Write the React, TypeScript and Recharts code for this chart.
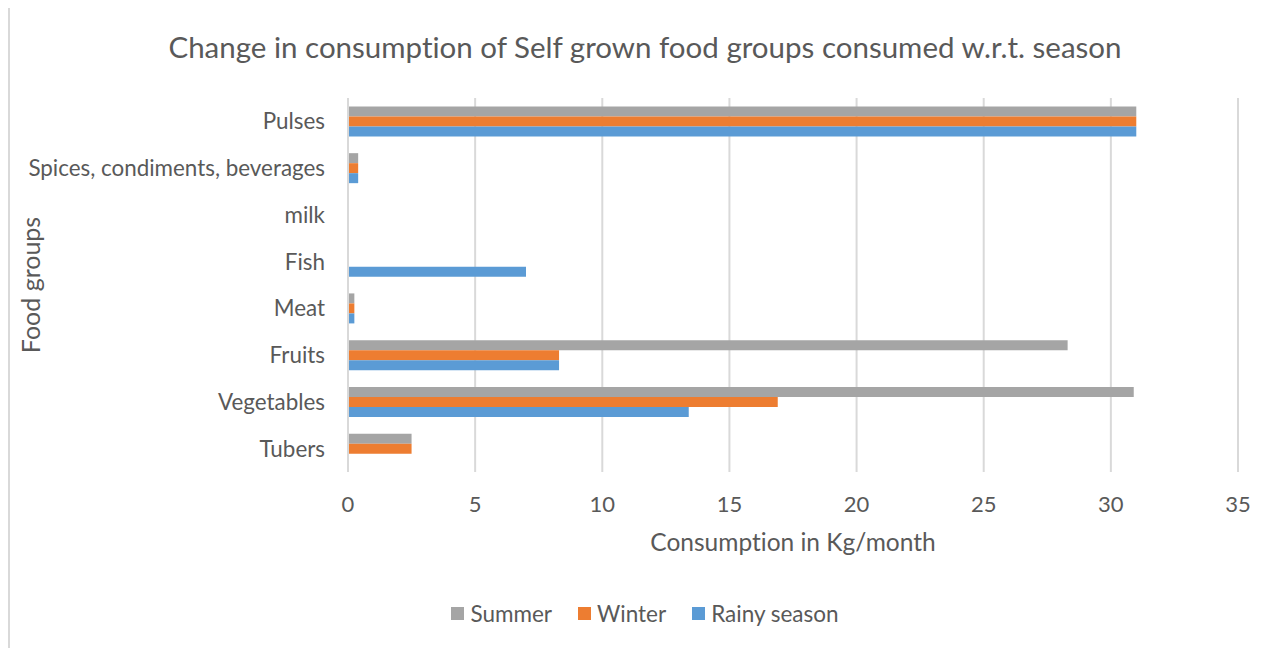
import React from "react";
import { BarChart, Bar, XAxis, YAxis, CartesianGrid, Legend, Label } from "recharts";

const categories = [
  "Pulses",
  "Spices, condiments, beverages",
  "milk",
  "Fish",
  "Meat",
  "Fruits",
  "Vegetables",
  "Tubers",
];
const summer = [31, 0.4, 0, 0, 0.25, 28.3, 30.9, 2.5];
const winter = [31, 0.4, 0, 0, 0.25, 8.3, 16.9, 2.5];
const rainy = [31, 0.4, 0, 7, 0.25, 8.3, 13.4, 0];
const xTicks = [0, 5, 10, 15, 20, 25, 30, 35];
const seriesOrder = ["Summer", "Winter", "Rainy season"];

const data = categories.map((c, i) => ({
  name: c,
  summer: summer[i],
  winter: winter[i],
  rainy: rainy[i],
}));

const FONT = "Lato, 'Open Sans', sans-serif";
const TEXT = "#595959";
const noLig = { fontVariantLigatures: "none" as const };

const renderLegend = (props: any) => {
  const payload = [...(props.payload || [])].sort(
    (a: any, b: any) => seriesOrder.indexOf(a.value) - seriesOrder.indexOf(b.value)
  );
  return (
    <div
      style={{
        display: "flex",
        justifyContent: "center",
        alignItems: "center",
        height: 30,
        gap: 26,
        fontFamily: FONT,
      }}
    >
      {payload.map((e: any) => (
        <span key={e.value} style={{ display: "flex", alignItems: "center" }}>
          <span
            style={{
              display: "inline-block",
              width: 13,
              height: 13,
              background: e.color,
              marginRight: 6,
            }}
          />
          <span style={{ fontSize: 22.5, color: TEXT, ...noLig }}>{e.value}</span>
        </span>
      ))}
    </div>
  );
};

export default function App() {
  return (
    <div
      style={{
        position: "relative",
        width: 1270,
        height: 645,
        border: "2px solid #d9d9d9",
        marginTop: -3,
        background: "#fff",
        fontFamily: FONT,
      }}
    >
      <div
        style={{
          position: "absolute",
          top: 21,
          left: 0,
          width: 1270,
          textAlign: "center",
          fontSize: 29.5,
          color: TEXT,
          lineHeight: "38px",
          fontFamily: FONT,
          zIndex: 2,
          ...noLig,
        }}
      >
        Change in consumption of Self grown food groups consumed w.r.t. season
      </div>
      <BarChart
        width={1270}
        height={645}
        data={data}
        layout="vertical"
        margin={{ top: 91, right: 42, bottom: 24, left: 0 }}
        barCategoryGap="18%"
        barGap={0}
      >
        <CartesianGrid horizontal={false} stroke="#d9d9d9" strokeWidth={2} />
        <XAxis
          type="number"
          domain={[0, 35]}
          ticks={xTicks}
          axisLine={false}
          tickLine={false}
          tickSize={0}
          tickMargin={24}
          height={126}
          tick={{ fill: TEXT, fontSize: 22, fontFamily: FONT }}
        >
          <Label
            value="Consumption in Kg/month"
            position="insideTop"
            offset={62}
            style={{ fill: TEXT, fontSize: 24.5, fontFamily: FONT, ...noLig }}
          />
        </XAxis>
        <YAxis
          type="category"
          dataKey="name"
          width={338}
          axisLine={{ stroke: "#d9d9d9", strokeWidth: 2 }}
          tickLine={false}
          tickSize={0}
          tickMargin={23}
          interval={0}
          tick={{ fill: TEXT, fontSize: 22.4, fontFamily: FONT }}
        >
          <Label
            content={(p: any) => {
              const vb = p.viewBox || {};
              const cx = (vb.x || 0) + 20;
              const cy = (vb.y || 0) + (vb.height || 0) / 2;
              return (
                <text
                  x={cx}
                  y={cy}
                  transform={`rotate(-90 ${cx} ${cy})`}
                  textAnchor="middle"
                  dominantBaseline="central"
                  fill={TEXT}
                  fontSize={25}
                  fontFamily={FONT}
                >
                  Food groups
                </text>
              );
            }}
          />
        </YAxis>
        <Legend
          verticalAlign="bottom"
          content={renderLegend}
          wrapperStyle={{ left: 0, width: 1270 }}
        />
        <Bar dataKey="summer" name="Summer" fill="#A5A5A5" isAnimationActive={false} />
        <Bar dataKey="winter" name="Winter" fill="#ED7D31" isAnimationActive={false} />
        <Bar dataKey="rainy" name="Rainy season" fill="#5B9BD5" isAnimationActive={false} />
      </BarChart>
    </div>
  );
}
